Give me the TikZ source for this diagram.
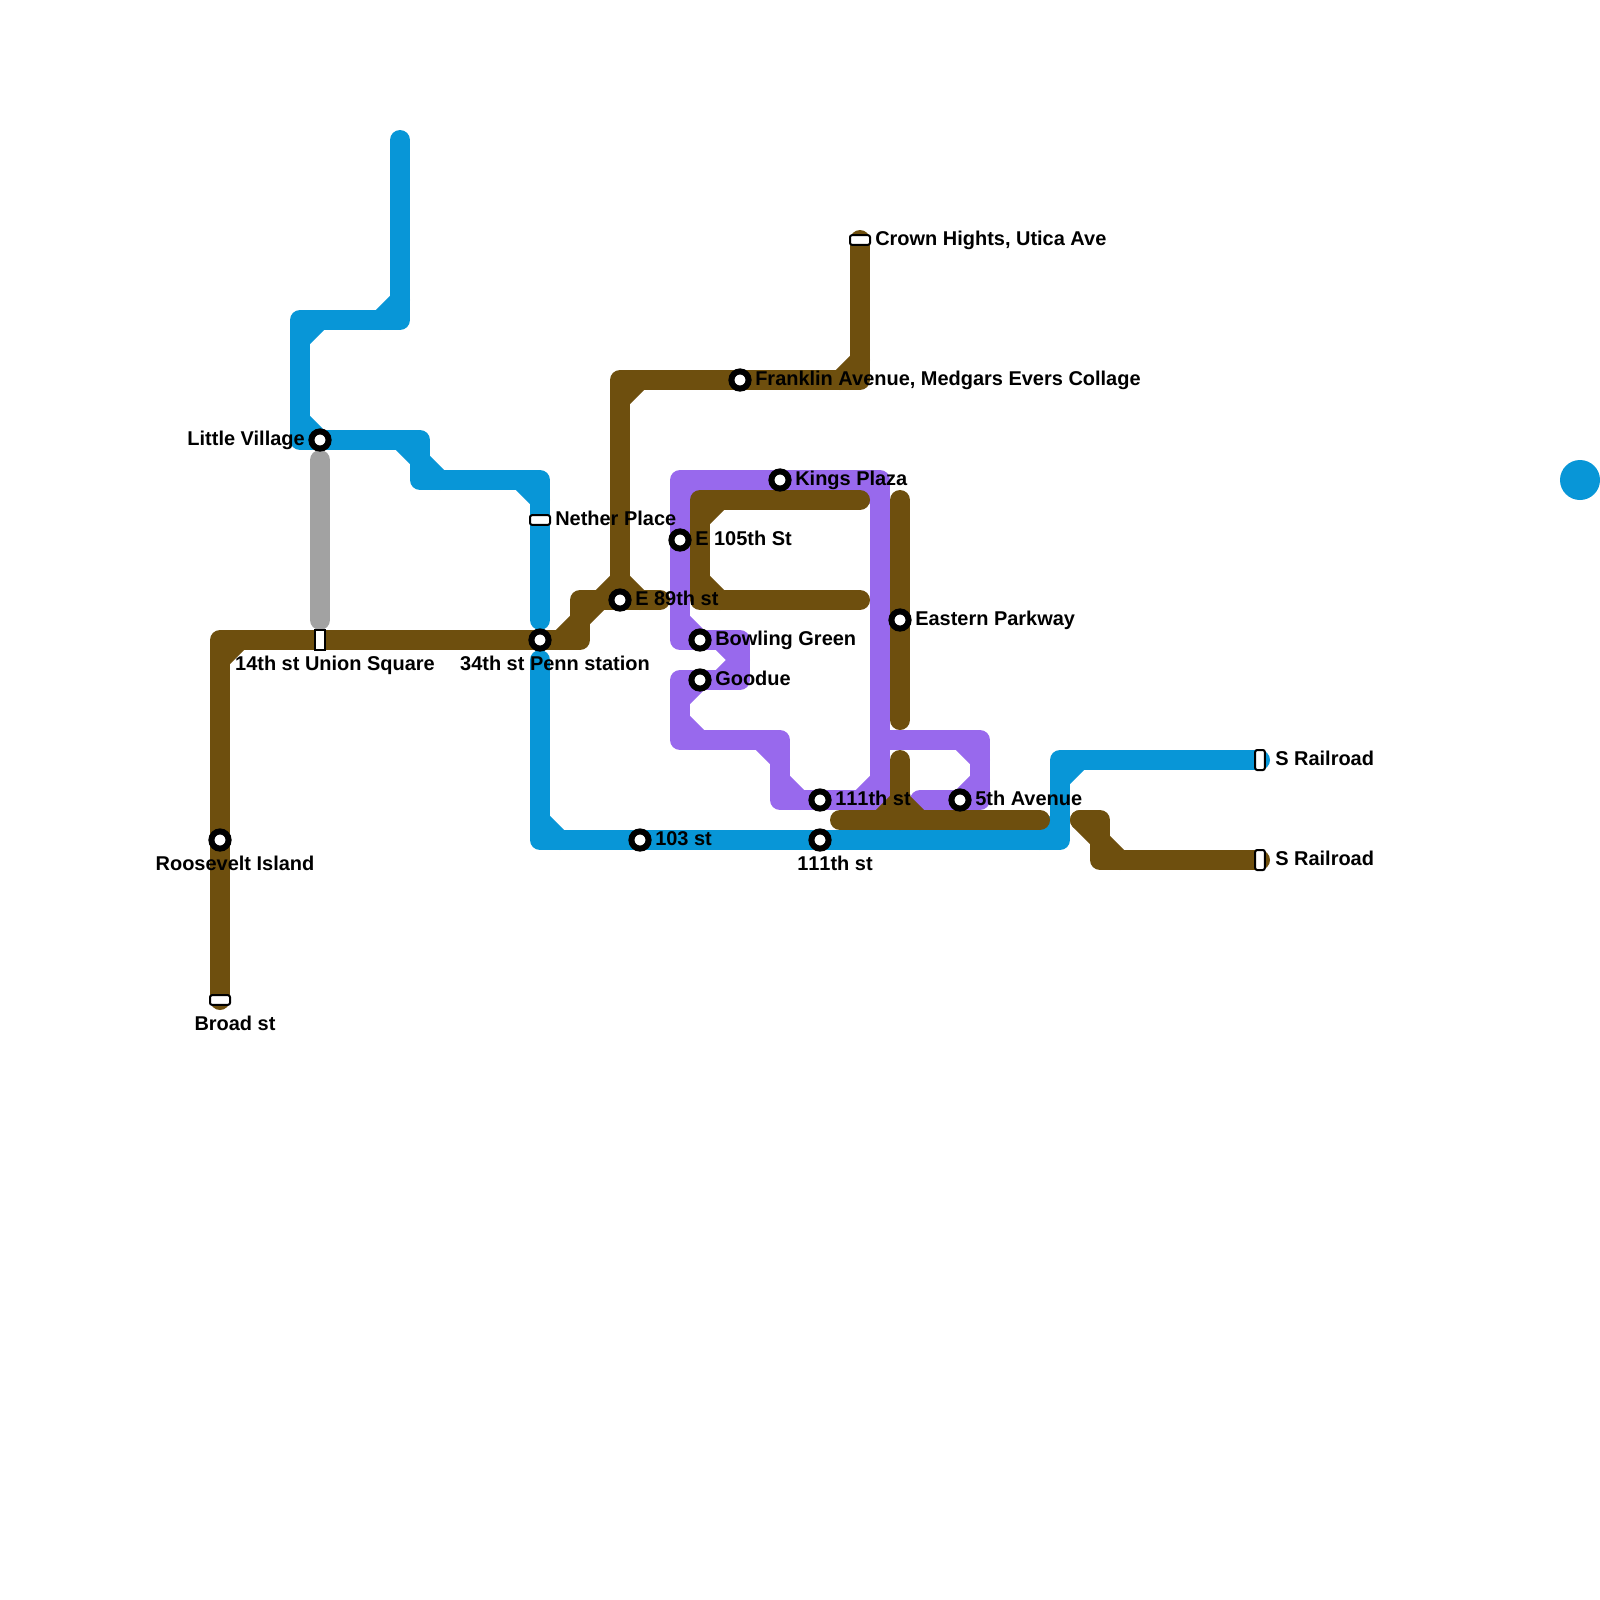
\documentclass[tikz,border=0pt]{standalone}
\usepackage{fontspec}
\setmainfont{Liberation Sans}
\definecolor{lineblue}{HTML}{0896D7}
\definecolor{linebrown}{HTML}{6E4F0E}
\definecolor{linepurple}{HTML}{9869ED}
\definecolor{linegray}{HTML}{A2A2A2}
\tikzset{
  route/.style={line width=0.5cm,line cap=round,line join=round},
  stop/.style={circle,draw=black,fill=white,line width=0.15cm,minimum size=0.43cm,inner sep=0pt},
  hstop/.style={rectangle,rounded corners=0.05cm,draw=black,fill=white,line width=0.05cm,minimum width=0.5cm,minimum height=0.24cm,inner sep=0pt},
  vstop/.style={rectangle,rounded corners=0.05cm,draw=black,fill=white,line width=0.05cm,minimum width=0.24cm,minimum height=0.5cm,inner sep=0pt},
  lbl/.style={font=\bfseries\fontsize{14.2pt}{16pt}\selectfont,inner sep=0pt},
  lblr/.style={lbl,anchor=base west,xshift=0.375cm,yshift=-0.13cm},
  lbll/.style={lbl,anchor=base east,xshift=-0.375cm,yshift=-0.13cm},
  lblb/.style={lbl,anchor=base,xshift=0.375cm,yshift=-0.75cm}
}
\begin{document}
\begin{tikzpicture}[x=0.5cm,y=-0.5cm]
\useasboundingbox (0,0) rectangle (80,80);
\draw[route,lineblue] (20,7) -- (20,16) -- (15,16) -- (15,22) -- (21,22) -- (21,24) -- (27,24) -- (27,31);
\draw[route,lineblue] (20,15) -- (19,16);
\draw[route,lineblue] (15,17) -- (16,16);
\draw[route,lineblue] (15,21) -- (16,22);
\draw[route,lineblue] (20,22) -- (22,24);
\draw[route,lineblue] (26,24) -- (27,25);
\draw[route,lineblue] (27,33) -- (27,42) -- (53,42) -- (53,38) -- (63,38);
\draw[route,lineblue] (27,41) -- (28,42);
\draw[route,lineblue] (52,42) -- (53,41);
\draw[route,lineblue] (53,39) -- (54,38);
\fill[lineblue] (79,24) circle (1);
\draw[route,linegray] (16,23) -- (16,31);
\draw[route,linepurple] (34,24) -- (34,32) -- (37,32) -- (37,34) -- (34,34) -- (34,37) -- (39,37) -- (39,40) -- (44,40) -- (44,24) -- cycle;
\draw[route,linepurple] (34,25) -- (35,24);
\draw[route,linepurple] (34,31) -- (35,32);
\draw[route,linepurple] (36,32) -- (37,33) -- (36,34);
\draw[route,linepurple] (34,35) -- (35,34);
\draw[route,linepurple] (34,36) -- (35,37);
\draw[route,linepurple] (38,37) -- (39,38);
\draw[route,linepurple] (39,39) -- (40,40);
\draw[route,linepurple] (43,40) -- (44,39);
\draw[route,linepurple] (43,24) -- (44,25);
\draw[route,linepurple] (44,37) -- (49,37) -- (49,40) -- (46,40);
\draw[route,linepurple] (48,37) -- (49,38);
\draw[route,linepurple] (49,39) -- (48,40);
\draw[route,linebrown] (11,50) -- (11,32) -- (29,32) -- (29,30) -- (33,30);
\draw[route,linebrown] (11,33) -- (12,32);
\draw[route,linebrown] (28,32) -- (29,31) -- (30,30);
\draw[route,linebrown] (31,30) -- (31,19) -- (43,19) -- (43,12);
\draw[route,linebrown] (30,30) -- (31,29) -- (32,30);
\draw[route,linebrown] (31,20) -- (32,19);
\draw[route,linebrown] (42,19) -- (43,18);
\draw[route,linebrown] (43,25) -- (35,25) -- (35,30) -- (43,30);
\draw[route,linebrown] (35,26) -- (36,25);
\draw[route,linebrown] (35,29) -- (36,30);
\draw[route,linebrown] (45,25) -- (45,36);
\draw[route,linebrown] (45,38) -- (45,41);
\draw[route,linebrown] (42,41) -- (52,41);
\draw[route,linebrown] (44,41) -- (45,40) -- (46,41);
\draw[route,linebrown] (54,41) -- (55,41) -- (55,43) -- (63,43);
\draw[route,linebrown] (54,41) -- (56,43);
\node[stop] (littlevillage) at (16,22) {};
\node[stop] (penn) at (27,32) {};
\node[stop] (roosevelt) at (11,42) {};
\node[stop] (ebightynine) at (31,30) {};
\node[stop] (eonefive) at (34,27) {};
\node[stop] (bowling) at (35,32) {};
\node[stop] (goodue) at (35,34) {};
\node[stop] (kings) at (39,24) {};
\node[stop] (franklin) at (37,19) {};
\node[stop] (eastern) at (45,31) {};
\node[stop] (upper) at (41,40) {};
\node[stop] (lower) at (41,42) {};
\node[stop] (fifth) at (48,40) {};
\node[stop] (onethree) at (32,42) {};
\node[hstop] (nether) at (27,26) {};
\node[hstop] (broad) at (11,50) {};
\node[hstop] (crown) at (43,12) {};
\node[vstop,rounded corners=0pt] (union) at (16,32) {};
\node[vstop] (railtop) at (63,38) {};
\node[vstop] (railbot) at (63,43) {};
\node[lbll] (littlevillagelbl) at (littlevillage) {Little Village};
\node[lblb] (pennlbl) at (penn) {34th st Penn station};
\node[lblb] (rooseveltlbl) at (roosevelt) {Roosevelt Island};
\node[lblr] (ebightyninelbl) at (ebightynine) {E 89th st};
\node[lblr] (eonefivelbl) at (eonefive) {E 105th St};
\node[lblr] (bowlinglbl) at (bowling) {Bowling Green};
\node[lblr] (goodulbl) at (goodue) {Goodue};
\node[lblr] (kingslbl) at (kings) {Kings Plaza};
\node[lblr] (franklinlbl) at (franklin) {Franklin Avenue, Medgars Evers Collage};
\node[lblr] (easternlbl) at (eastern) {Eastern Parkway};
\node[lblr] (upperlbl) at (upper) {\addfontfeature{Kerning=Off}111th st};
\node[lblb] (lowerlbl) at (lower) {\addfontfeature{Kerning=Off}111th st};
\node[lblr] (fifthlbl) at (fifth) {5th Avenue};
\node[lblr] (onethreelbl) at (onethree) {103 st};
\node[lblr] (netherlbl) at (nether) {Nether Place};
\node[lblb] (broadlbl) at (broad) {Broad st};
\node[lblr] (crownlbl) at (crown) {Crown Hights, Utica Ave};
\node[lblb] (unionlbl) at (union) {14th st Union Square};
\node[lblr] (railtoplbl) at (railtop) {S Railroad};
\node[lblr] (railbotlbl) at (railbot) {S Railroad};
\end{tikzpicture}
\end{document}
